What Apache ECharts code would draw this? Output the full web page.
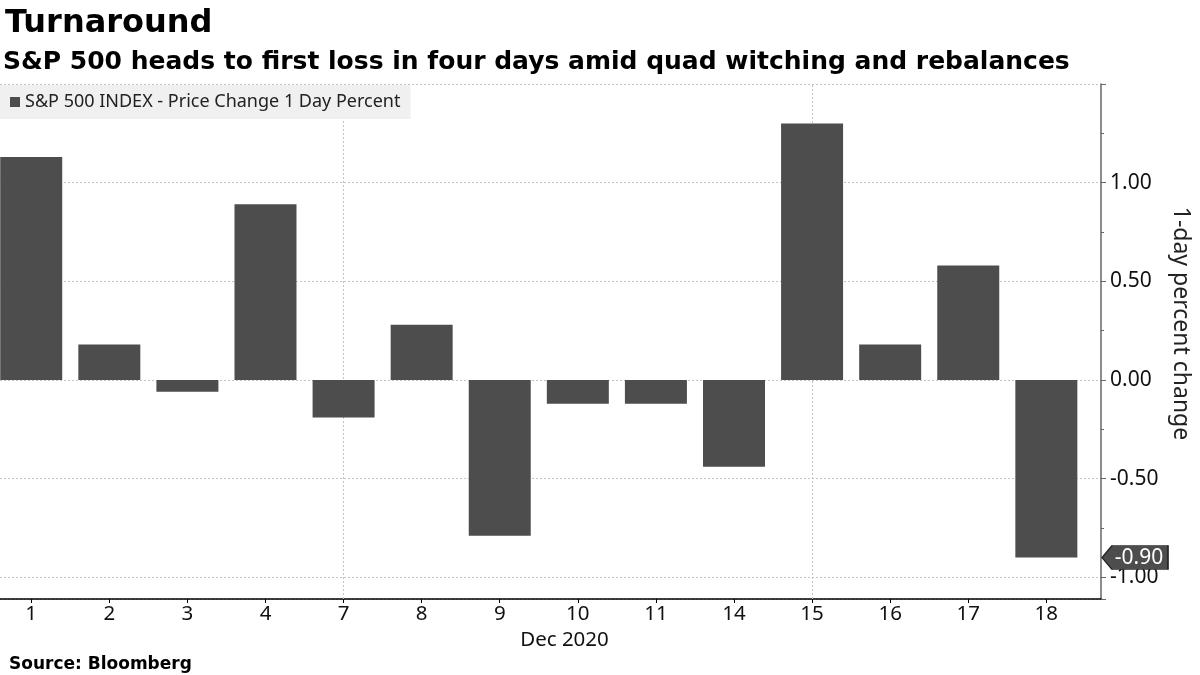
<!DOCTYPE html>
<html>
<head>
<meta charset="utf-8">
<script src="https://cdn.jsdelivr.net/npm/echarts@6/dist/echarts.min.js"></script>
<style>html,body{margin:0;padding:0;background:#fff}#c{width:1200px;height:675px}</style>
</head>
<body>
<div id="c"></div>
<script>
const days = ['1','2','3','4','7','8','9','10','11','14','15','16','17','18'];
const changes = [1.13, 0.18, -0.06, 0.89, -0.19, 0.28, -0.79, -0.12, -0.12, -0.44, 1.30, 0.18, 0.58, -0.90];
const verticalGridDays = ['7','15'];
const seriesName = 'S&P 500 INDEX - Price Change 1 Day Percent';
const monthLabel = 'Dec 2020';

const FONT = 'Noto Sans';
const lastIdx = changes.length - 1;
const xMin = -0.4, xMax = 13.7;

const chart = echarts.init(document.getElementById('c'));
chart.setOption({
  animation: false,
  backgroundColor: '#fff',
  title: [
    {text: 'Turnaround', left: 0, top: 3, textStyle: {fontFamily: 'DejaVu Sans', fontWeight: 'bold', fontSize: 32, color: '#000'}},
    {text: 'S&P 500 heads to first loss in four days amid quad witching and rebalances', left: -2, top: 45, textStyle: {fontFamily: 'DejaVu Sans', fontWeight: 'bold', fontSize: 25, color: '#000'}},
    {text: 'Source: Bloomberg', left: 4, top: 651, textStyle: {fontFamily: 'DejaVu Sans', fontWeight: 'bold', fontSize: 17, color: '#000'}}
  ],
  legend: {
    left: 0, top: 85, padding: [8, 10, 8, 10],
    backgroundColor: '#f0f0f0',
    itemWidth: 10, itemHeight: 10, itemGap: 6,
    icon: 'rect',
    textStyle: {fontFamily: FONT, fontSize: 18, color: '#222'},
    data: [seriesName]
  },
  grid: {left: 0, right: 99, top: 84, bottom: 76, containLabel: false, outerBoundsMode: 'none'},
  xAxis: {
    type: 'value', min: xMin, max: xMax,
    name: monthLabel, nameLocation: 'middle', nameGap: 30,
    nameTextStyle: {fontFamily: FONT, fontSize: 20.5, color: '#111', padding: [0, 0, 0, 28]},
    axisLine: {show: true, onZero: false, lineStyle: {color: '#000', width: 1.5}},
    axisTick: {show: true, length: 4, lineStyle: {color: '#000'}, customValues: days.map((d, i) => i)},
    axisLabel: {fontFamily: FONT, fontSize: 20.5, color: '#111', margin: 5,
      customValues: days.map((d, i) => i), formatter: v => days[v]},
    splitLine: {show: false}
  },
  yAxis: {
    type: 'value', position: 'right', min: -1.11, max: 1.5, splitNumber: 5,
    name: '1-day percent change', nameLocation: 'middle', nameRotate: -90, nameGap: 67,
    nameTextStyle: {fontFamily: FONT, fontSize: 23, color: '#222', padding: [0, 36, 0, 0]},
    axisLine: {show: true, onZero: false, lineStyle: {color: '#666', width: 1.5}},
    axisTick: {show: true, length: 5, lineStyle: {color: '#666'}},
    minorTick: {show: true, splitNumber: 2, length: 3, lineStyle: {color: '#666'}},
    axisLabel: {fontFamily: FONT, fontSize: 21, color: '#111', margin: 9,
      showMinLabel: false, showMaxLabel: false, formatter: v => v.toFixed(2)},
    splitLine: {show: true, lineStyle: {color: '#c4c4c4', type: [2, 2], width: 1}}
  },
  series: [
    {
      type: 'line', name: 'grid', data: [], z: 1, silent: true,
      markLine: {
        z: 1, silent: true, symbol: 'none', label: {show: false},
        lineStyle: {color: '#c4c4c4', type: [2, 2], width: 1},
        data: verticalGridDays.map(d => ({xAxis: days.indexOf(d)}))
      }
    },
    {
      type: 'bar', name: seriesName, z: 3, barWidth: 62,
      itemStyle: {color: '#4d4d4d'},
      data: changes.map((v, i) => [i, v]),
      markPoint: {
        z: 6, silent: true,
        symbol: 'path://M0,12 L10,0 L66,0 L66,24 L10,24 Z',
        symbolSize: [66, 24], symbolKeepAspect: false, symbolOffset: [34, 0],
        itemStyle: {color: '#4d4d4d', borderColor: '#222', borderWidth: 1},
        label: {show: true, position: 'inside', offset: [4, 0], color: '#fff', fontFamily: FONT, fontSize: 21,
          formatter: () => changes[lastIdx].toFixed(2)},
        data: [{coord: [xMax, changes[lastIdx]]}]
      }
    }
  ]
});
</script>
</body>
</html>
